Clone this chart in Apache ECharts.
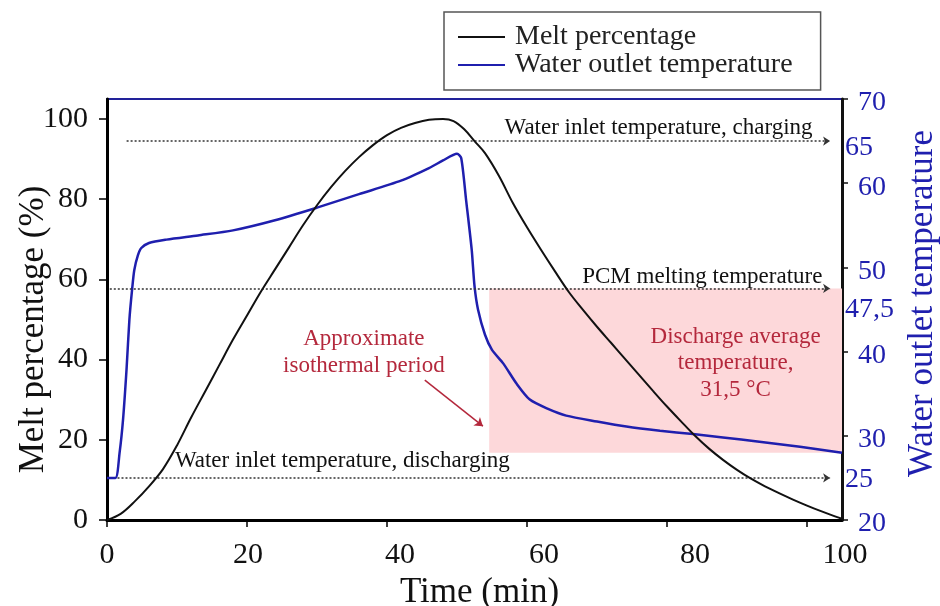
<!DOCTYPE html>
<html>
<head>
<meta charset="utf-8">
<script src="https://cdn.jsdelivr.net/npm/echarts@6/dist/echarts.min.js"></script>
<style>
  html, body { margin: 0; padding: 0; background: #fff; }
  #chart { width: 940px; height: 606px; }
</style>
</head>
<body>
<div id="chart"></div>
<script>
// Melt fraction of the PCM over a charge/discharge cycle
const meltTime = [0,2,4,6,8,10,12,14,16,18,20,22,24,26,28,30,32,34,36,38,40,42,44,46,48,49.5,51,52.5,54,56,58,60,62,64,66,68,70,72,74,76,78,80,82,84,86,88,90,92,94,96,98,100,102,104,105];
const meltPct = [0,1.6,4.7,8.4,12.7,18.6,25.5,32,38.5,45,51,57,62.5,68,73.5,78.5,83,87,90.5,93.5,96,97.8,99,99.8,100,99.5,97.5,94.5,91.5,85.8,79,73,67.4,62,56.8,52.4,48.2,44.2,40.2,36.2,32.2,28.3,24.6,21,17.8,15,12.5,10.3,8.4,6.7,5.1,3.6,2.2,0.9,0.3];

// Water outlet temperature (°C)
const outletTime = [0,1.2,1.8,2.3,2.8,3.2,3.6,3.9,4.4,4.9,6,8.5,13,18,24,30,36,42,46,48,50,50.6,51.3,52.1,52.5,53,54,55,56.6,58.5,60.4,63,65.6,70,74.2,79,83.7,88,93.2,99,105];
const outletTemp = [25,25,28,32,38,43.8,47.5,49.7,51.4,52.3,52.9,53.3,53.8,54.4,55.6,57.1,58.7,60.3,61.8,62.7,63.5,63,58,52.1,47.8,45,42,40.2,38.6,36.2,34.3,33.2,32.4,31.7,31.1,30.6,30.2,29.8,29.3,28.7,28.0];

// Axis ticks and labels
const timeTicks = [0, 20, 40, 60, 80, 100];
const meltTicks = [0, 20, 40, 60, 80, 100];
const tempTicks = [20, 30, 40, 50, 60, 70];
const tempRefValues = [25, 47.5, 65];

// Reference temperatures (°C)
const inletCharging = 65;
const pcmMelting = 47.5;
const inletDischarging = 25;
const dischargeAverage = '31,5 °C';

// Discharge window (time span and temperature band)
const dischargeStart = 54.6;
const dischargeEnd = 105;
const dischargeLow = 28.0;

const SERIF = "'Liberation Serif', 'Times New Roman', serif";
const BLUE = '#1f1fae';
const RED = '#b4283c';

// Typeset nudges (px) for the time labels, which sit slightly right of their ticks
const timeLabelNudge = { 0: 0, 20: 1, 40: 13, 60: 17, 80: 28, 100: 38 };

const meltData = meltTime.map((t, i) => [t, meltPct[i]]);
const outletData = outletTime.map((t, i) => [t, outletTemp[i]]);
const tempLabelValues = tempTicks.concat(tempRefValues).sort((a, b) => a - b);

const timeRich = {};
timeTicks.forEach(function (v) {
  timeRich['x' + v] = { fontFamily: SERIF, fontSize: 30, color: '#111', padding: [0, 0, 0, 2 * (timeLabelNudge[v] || 0)] };
});

const chart = echarts.init(document.getElementById('chart'), null, { renderer: 'canvas' });

const option = {
  animation: false,
  backgroundColor: '#fff',
  textStyle: { fontFamily: SERIF },
  legend: {
    orient: 'vertical',
    left: 444,
    top: 12,
    data: ['Melt percentage', 'Water outlet temperature'],
    icon: 'rect',
    itemWidth: 47,
    itemHeight: 2,
    itemGap: 0,
    borderColor: '#555',
    borderWidth: 1.5,
    padding: [11, 28, 11, 14],
    textStyle: { fontFamily: SERIF, fontSize: 28, color: '#222', padding: [0, 0, 0, 5] }
  },
  grid: {
    left: 107, right: 98, top: 99, bottom: 86,
    outerBoundsMode: 'none',
    containLabel: false,
    show: true, borderColor: '#22229a', borderWidth: 2, backgroundColor: 'transparent'
  },
  xAxis: {
    type: 'value', min: 0, max: 105,
    name: 'Time (min)', nameLocation: 'middle', nameGap: 55,
    nameTextStyle: { fontFamily: SERIF, fontSize: 35, color: '#111', padding: [0, 0, 0, 10] },
    axisLine: { show: true, onZero: false, lineStyle: { color: '#000', width: 3 } },
    axisTick: { show: true, inside: false, length: 7, customValues: timeTicks, lineStyle: { color: '#000', width: 1.5 } },
    axisLabel: {
      customValues: timeTicks, fontFamily: SERIF, fontSize: 30, color: '#111', margin: 20,
      formatter: function (v) { return '{x' + v + '|' + v + '}'; },
      rich: timeRich
    },
    splitLine: { show: false }
  },
  yAxis: [
    {
      type: 'value', min: 0, max: 105, position: 'left',
      name: 'Melt percentage (%)', nameLocation: 'middle', nameGap: 56, nameMoveOverlap: false,
      nameTextStyle: { fontFamily: SERIF, fontSize: 35, color: '#111', padding: [0, 40, 0, 0] },
      axisLine: { show: true, onZero: false, lineStyle: { color: '#000', width: 3 } },
      axisTick: { show: true, inside: false, length: 8, customValues: meltTicks, lineStyle: { color: '#000', width: 1.5 } },
      axisLabel: { customValues: meltTicks, fontFamily: SERIF, fontSize: 30, color: '#111', margin: 19 },
      splitLine: { show: false }
    },
    {
      type: 'value', min: 20, max: 70, position: 'right',
      name: 'Water outlet temperature', nameLocation: 'middle', nameGap: 58, nameRotate: 90,
      nameTextStyle: { fontFamily: SERIF, fontSize: 35, color: BLUE, padding: [0, 0, 0, 12] },
      axisLine: { show: true, onZero: false, lineStyle: { color: '#111', width: 3 } },
      axisTick: { show: true, inside: false, length: 6, customValues: tempTicks, lineStyle: { color: '#111', width: 1.5 } },
      axisLabel: {
        customValues: tempLabelValues,
        fontFamily: SERIF, fontSize: 28, color: BLUE, margin: 3,
        formatter: function (v) {
          if (v === inletCharging) return '{r65|' + v + '}';
          if (v === pcmMelting) return '{r47|' + String(v).replace('.', ',') + '}';
          if (v === inletDischarging) return '{r25|' + v + '}';
          return '{t|' + v + '}';
        },
        rich: {
          t: { fontFamily: SERIF, fontSize: 28, color: BLUE, padding: [8, 0, 0, 13] },
          r65: { fontFamily: SERIF, fontSize: 28, color: BLUE, padding: [14, 0, 0, 0] },
          r47: { fontFamily: SERIF, fontSize: 28, color: BLUE, padding: [42, 0, 0, 0] },
          r25: { fontFamily: SERIF, fontSize: 28, color: BLUE, padding: [4, 0, 0, 0] }
        }
      },
      splitLine: { show: false }
    }
  ],
  series: [
    {
      name: 'Melt percentage',
      type: 'line',
      yAxisIndex: 0,
      data: meltData,
      symbol: 'none',
      smooth: 0.35,
      z: 5,
      lineStyle: { color: '#111', width: 2 },
      itemStyle: { color: '#111' },
      markLine: {
        silent: true,
        symbol: ['none', 'arrow'],
        symbolSize: 8,
        label: { show: false },
        lineStyle: { color: RED, width: 1.5, type: 'solid' },
        data: [[{ coord: [45.4, 34.9] }, { coord: [53.7, 23.4] }]]
      }
    },
    {
      name: 'Water outlet temperature',
      type: 'line',
      yAxisIndex: 1,
      data: outletData,
      symbol: 'none',
      smooth: 0.25,
      z: 4,
      lineStyle: { color: BLUE, width: 2.5 },
      itemStyle: { color: BLUE },
      markArea: {
        silent: true,
        itemStyle: { color: '#fdd8da' },
        data: [[{ coord: [dischargeStart, pcmMelting] }, { coord: [dischargeEnd, dischargeLow] }]]
      },
      markLine: {
        silent: true,
        symbol: ['none', 'arrow'],
        symbolSize: 7,
        label: { show: false },
        lineStyle: { color: '#333', width: 1.6, type: [2, 2] },
        data: [
          [{ coord: [2.8, inletCharging] }, { coord: [103.3, inletCharging] }],
          [{ coord: [0.4, pcmMelting] }, { coord: [103.3, pcmMelting] }],
          [{ coord: [1.5, inletDischarging] }, { coord: [103.3, inletDischarging] }]
        ]
      },
      markPoint: {
        silent: true,
        symbol: 'circle',
        symbolSize: 0,
        itemStyle: { color: 'transparent' },
        data: [
          { coord: [100.8, 66.6], label: { show: true, position: 'inside', formatter: 'Water inlet temperature, charging', align: 'right', verticalAlign: 'middle', fontFamily: SERIF, fontSize: 23, color: '#111' } },
          { coord: [102.2, 48.9], label: { show: true, position: 'inside', formatter: 'PCM melting temperature', align: 'right', verticalAlign: 'middle', fontFamily: SERIF, fontSize: 23, color: '#111' } },
          { coord: [9.7, 27.0], label: { show: true, position: 'inside', formatter: 'Water inlet temperature, discharging', align: 'left', verticalAlign: 'middle', fontFamily: SERIF, fontSize: 23, color: '#111' } },
          { coord: [36.7, 39.9], label: { show: true, position: 'inside', formatter: 'Approximate\nisothermal period', align: 'center', verticalAlign: 'middle', fontFamily: SERIF, fontSize: 23, lineHeight: 27, color: RED } },
          { coord: [89.8, 38.6], label: { show: true, position: 'inside', formatter: 'Discharge average\ntemperature,\n' + dischargeAverage, align: 'center', verticalAlign: 'middle', fontFamily: SERIF, fontSize: 23, lineHeight: 26.5, color: RED } }
        ]
      }
    }
  ]
};

chart.setOption(option);
</script>
</body>
</html>
